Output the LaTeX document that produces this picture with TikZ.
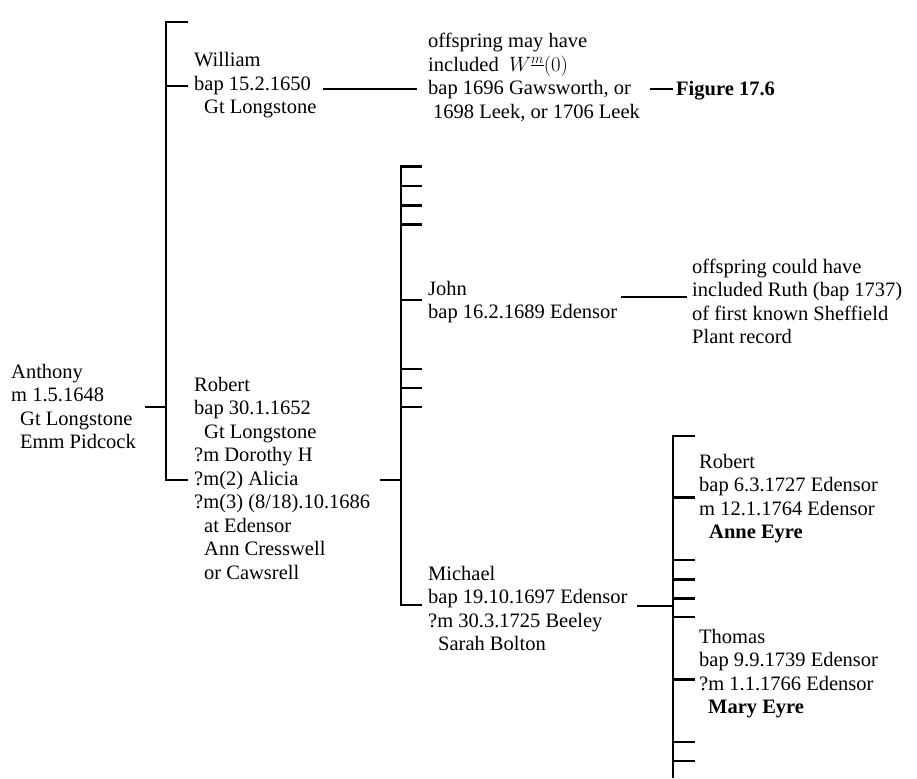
\documentclass[tikz,border=0pt]{standalone}
\usepackage{fontspec}
\setmainfont{Liberation Serif}
\begin{document}
\begin{tikzpicture}[x=1pt,y=-1pt,
  line width=2.4pt, line cap=butt, line join=miter,
  txt/.style={anchor=base west, inner sep=0pt, align=left,
              font=\fontsize{20.5}{23.5}\selectfont}]
\useasboundingbox (0,0) rectangle (917,778);

% ---------- text nodes (anchored at baseline of last line) ----------
\node[txt] (anthony) at (10,448.5) {Anthony\\m 1.5.1648\\\hspace*{9pt}Gt Longstone\\\hspace*{9pt}Emm Pidcock};
\node[txt] (william) at (193,114) {William\\bap 15.2.1650\\\hspace*{10pt}Gt Longstone};
\node[txt] (offw) at (427,118.5) {offspring may have\\included\ \ $W^{\underline{m}}(0)$\\bap 1696 Gawsworth, or\\\hspace*{5pt}1698 Leek, or 1706 Leek};
\node[txt, font=\fontsize{20.5}{23.5}\selectfont\bfseries] (fig) at (675,96) {Figure 17.6};
\node[txt] (robA) at (193,579) {Robert\\bap 30.1.1652\\\hspace*{10pt}Gt Longstone\\?m Dorothy H\\?m(2) Alicia\\?m(3) (8/18).10.1686\\\hspace*{10pt}at Edensor\\\hspace*{10pt}Ann Cresswell\\\hspace*{10pt}or Cawsrell};
\node[txt] (john) at (427,318.5) {John\\bap 16.2.1689 Edensor};
\node[txt] (offj) at (691,343.5) {offspring could have\\included Ruth (bap 1737)\\of first known Sheffield\\Plant record};
\node[txt] (michael) at (427,650.5) {Michael\\bap 19.10.1697 Edensor\\?m 30.3.1725 Beeley\\\hspace*{10pt}Sarah Bolton};
\node[txt] (robB) at (698,538.5) {Robert\\bap 6.3.1727 Edensor\\m 12.1.1764 Edensor\\\hspace*{10pt}\textbf{Anne Eyre}};
\node[txt] (thomas) at (698,713.5) {Thomas\\bap 9.9.1739 Edensor\\?m 1.1.1766 Edensor\\\hspace*{9pt}\textbf{Mary Eyre}};

% ---------- junction coordinates ----------
% bar 1
\coordinate (b1t) at (165.7,22);
\coordinate (b1b) at (165.7,480);
\coordinate (b1te) at (188,22);
\coordinate (b1w) at (165.7,86);
\coordinate (b1we) at (188,86);
\coordinate (b1r) at (188,480);
\coordinate (antA) at (145,407);
\coordinate (antB) at (165.7,407);
% William branch
\coordinate (wA) at (323,89);
\coordinate (wB) at (417,89);
\coordinate (fA) at (650,89);
\coordinate (fB) at (673,89);
% bar 2
\coordinate (b2t) at (400.7,166.7);
\coordinate (b2b) at (400.7,605);
\coordinate (b2te) at (422,166.7);
\coordinate (b2be) at (422,605);
\coordinate (rA) at (380,480);
\coordinate (rB) at (400.7,480);
\coordinate (jA) at (621,297);
\coordinate (jB) at (687,297);
% bar 3
\coordinate (b3t) at (673,435.7);
\coordinate (b3b) at (673,778);
\coordinate (b3te) at (695,435.7);
\coordinate (mA) at (637,606);
\coordinate (mB) at (673,606);

% ---------- connectors ----------
\draw (b1te) -- (b1t) -- (b1b) -- (b1r);
\draw (b1w) -- (b1we);
\draw (antA) -- (antB);
\draw (wA) -- (wB);
\draw (fA) -- (fB);

\draw (b2te) -- (b2t) -- (b2b) -- (b2be);
\foreach \yy/\nm in {186/t1,205.5/t2,224.5/t3,300/tj,369/t4,388/t5,407/t6}
  \draw (400.7,\yy) coordinate (b2\nm) -- (422,\yy) coordinate (b2\nm e);
\draw (rA) -- (rB);
\draw (jA) -- (jB);

\draw (b3te) -- (b3t) -- (b3b);
\foreach \yy/\nm in {497.3/t1,560/t2,579.3/t3,598.3/t4,616.7/t5,679.3/t6,741.7/t7,760.7/t8}
  \draw (673,\yy) coordinate (b3\nm) -- (695,\yy) coordinate (b3\nm e);
\draw (mA) -- (mB);
\end{tikzpicture}
\end{document}
